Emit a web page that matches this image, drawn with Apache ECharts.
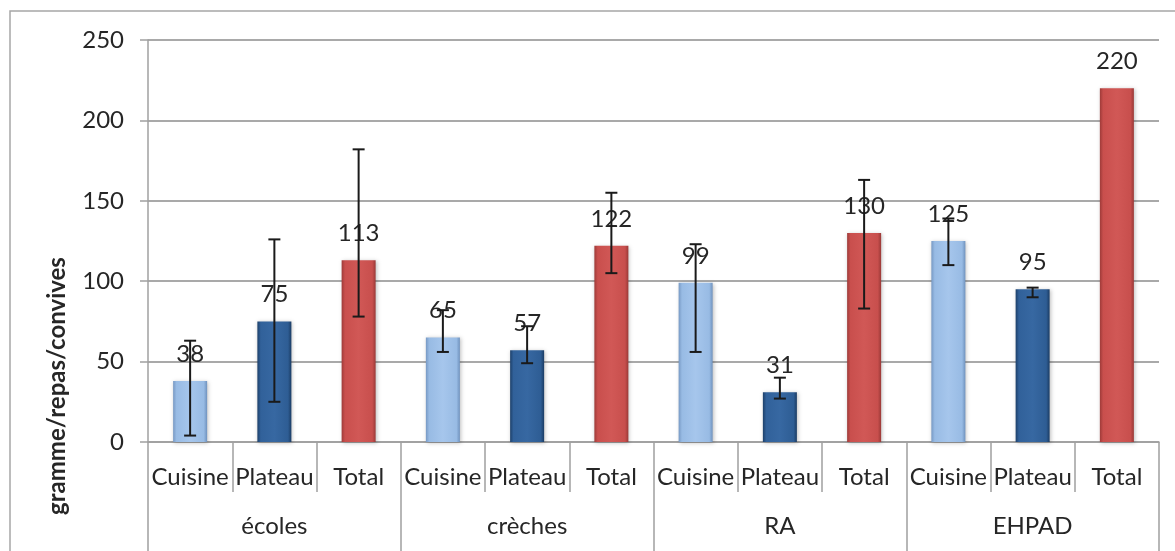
<!DOCTYPE html>
<html>
<head>
<meta charset="utf-8">
<script src="https://cdn.jsdelivr.net/npm/echarts@6/dist/echarts.min.js"></script>
<style>
html,body{margin:0;padding:0;background:#fff;}
#chart{width:1175px;height:551px;}
</style>
</head>
<body>
<div id="chart"></div>
<script>
// ---- data ----
var categories = ['Cuisine','Plateau','Total','Cuisine','Plateau','Total','Cuisine','Plateau','Total','Cuisine','Plateau','Total'];
var groups = ['écoles','crèches','RA','EHPAD'];
var values = [38, 75, 113, 65, 57, 122, 99, 31, 130, 125, 95, 220];
var errLow  = [4, 25, 78, 56, 49, 105, 56, 27, 83, 110, 90, null];
var errHigh = [63, 126, 182, 82, 72, 155, 123, 40, 163, 139, 96, null];
var yTicks = { min: 0, max: 250, interval: 50 };
var yTitle = 'gramme/repas/convives';

// ---- styles ----
var FONT = 'Lato';
function grad(stops){
  return new echarts.graphic.LinearGradient(0,0,1,0, stops.map(function(c,i){return {offset:c[0], color:c[1]};}));
}
var fills = {
  'Cuisine': grad([[0,'#7799c4'],[0.1,'#98bbe4'],[0.5,'#a6c6ec'],[0.9,'#98bbe4'],[1,'#6f92be']]),
  'Plateau': grad([[0,'#1d406a'],[0.1,'#31619a'],[0.5,'#3768a2'],[0.9,'#2e5d94'],[1,'#1b3c64']]),
  'Total':   grad([[0,'#9e3b39'],[0.1,'#c94f4d'],[0.5,'#d15856'],[0.9,'#c84f4d'],[1,'#9a3937']])
};

var barData = values.map(function(v,i){
  return { value: v, itemStyle: { color: fills[categories[i]] } };
});
var errData = [];
values.forEach(function(v,i){
  if (errLow[i] != null) errData.push([i, errLow[i], errHigh[i]]);
});

var chart = echarts.init(document.getElementById('chart'));
chart.setOption({
  animation: false,
  backgroundColor: '#ffffff',
  textStyle: { fontFamily: FONT },
  grid: { left: 148, right: 16, top: 40, bottom: 109, containLabel: false },
  graphic: [
    { type: 'rect', shape: { x: 10, y: 11, width: 1200, height: 600 },
      style: { fill: null, stroke: '#a6a6a6', lineWidth: 1.5 }, silent: true, z: -10 },
    { type: 'text', x: 57, y: 386, rotation: Math.PI/2,
      style: { text: yTitle, font: 'bold 24px ' + FONT, fill: '#262626', align: 'center', verticalAlign: 'middle' } }
  ],
  xAxis: [
    { type: 'category', data: categories, position: 'bottom',
      axisLine: { show: true, lineStyle: { color: '#a0a0a0', width: 1.5 } },
      axisTick: { show: true, length: 50, lineStyle: { color: '#a0a0a0', width: 1.5 } },
      axisLabel: { margin: 23, fontSize: 24, color: '#262626', fontFamily: FONT, interval: 0 },
      splitLine: { show: false } },
    { type: 'category', data: groups, position: 'bottom',
      axisLine: { show: false },
      axisTick: { show: true, length: 120, lineStyle: { color: '#a0a0a0', width: 1.5 } },
      axisLabel: { margin: 72, fontSize: 24, color: '#262626', fontFamily: FONT, interval: 0 },
      splitLine: { show: false } }
  ],
  yAxis: {
    type: 'value', min: yTicks.min, max: yTicks.max, interval: yTicks.interval,
    axisLine: { show: true, lineStyle: { color: '#a0a0a0', width: 1.5 } },
    axisTick: { show: true, length: 8, lineStyle: { color: '#a0a0a0', width: 1.5 } },
    axisLabel: { margin: 24, fontSize: 24, color: '#262626', fontFamily: FONT },
    splitLine: { show: true, lineStyle: { color: '#8c8c8c', width: 1.5 } }
  },
  series: [
    { type: 'bar', xAxisIndex: 0, data: barData, barWidth: 34, z: 2,
      itemStyle: { shadowColor: 'rgba(0,0,0,0.25)', shadowBlur: 4, shadowOffsetX: 1, shadowOffsetY: 1 },
      label: { show: true, position: 'top', distance: 15, fontSize: 24, color: '#262626', fontFamily: FONT } },
    { type: 'custom', xAxisIndex: 0, data: errData, z: 10,
      renderItem: function(params, api){
        var x = api.value(0), lo = api.value(1), hi = api.value(2);
        var pH = api.coord([x, hi]), pL = api.coord([x, lo]);
        var w = 6;
        var st = { stroke: '#1a1a1a', lineWidth: 2 };
        return { type: 'group', children: [
          { type: 'line', shape: { x1: pH[0], y1: pH[1], x2: pL[0], y2: pL[1] }, style: st },
          { type: 'line', shape: { x1: pH[0]-w, y1: pH[1], x2: pH[0]+w, y2: pH[1] }, style: st },
          { type: 'line', shape: { x1: pL[0]-w, y1: pL[1], x2: pL[0]+w, y2: pL[1] }, style: st }
        ]};
      } }
  ]
});
</script>
</body>
</html>
